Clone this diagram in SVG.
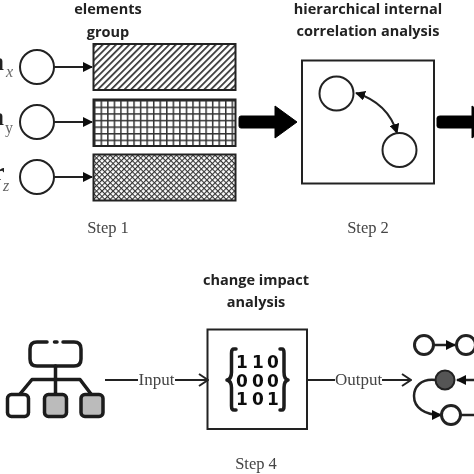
<svg xmlns="http://www.w3.org/2000/svg" width="474" height="474" viewBox="0 0 474 474">
<style>
.t{font-family:"Open Sans","Liberation Sans",sans-serif;font-weight:700;font-size:14.5px;fill:#222;text-anchor:middle}
.s{font-family:"Liberation Serif",serif;font-size:16.5px;fill:#444;text-anchor:middle}
.l{font-family:"Liberation Serif",serif;font-size:17px;fill:#444;text-anchor:middle}
.v{font-family:"Liberation Serif",serif;font-size:26px;font-weight:700;fill:#222}
.sub{font-family:"Liberation Serif",serif;font-size:16px;font-style:italic;fill:#666}
.n{fill:#fff;stroke:#222;stroke-width:2}
.c{fill:none;stroke:#222;stroke-width:2}
.i{fill:none;stroke:#1a1a1a;stroke-width:3.500;stroke-linecap:round;stroke-linejoin:round}
.m{font-family:"DejaVu Sans",sans-serif;font-weight:700;font-size:17px;fill:#111;text-anchor:middle}
</style>
<defs>
<filter id="soft" x="0" y="0" width="100%" height="100%"><feGaussianBlur stdDeviation="0.4"/></filter>
<pattern id="hatch" width="4.700" height="4.700" patternUnits="userSpaceOnUse" patternTransform="rotate(-45)">
<rect width="4.700" height="4.700" fill="#fff"/><rect width="4.700" height="1.700" fill="#333"/>
</pattern>
<pattern id="grid" width="6.550" height="6.600" patternUnits="userSpaceOnUse" x="94" y="100">
<rect width="6.550" height="6.600" fill="#fff"/><rect width="1.500" height="6.600" fill="#333"/><rect width="6.550" height="1.500" fill="#333"/>
</pattern>
<pattern id="cross" width="3.900" height="3.900" patternUnits="userSpaceOnUse" patternTransform="rotate(45)">
<rect width="3.900" height="3.900" fill="#fff"/><rect width="3.900" height="1.100" fill="#333"/><rect width="1.100" height="3.900" fill="#333"/>
</pattern>
<marker id="ah" viewBox="0 0 10 10" refX="9" refY="5" markerWidth="10" markerHeight="10" markerUnits="userSpaceOnUse" orient="auto-start-reverse"><path d="M0 0L10 5L0 10z" fill="#111"/></marker>
<marker id="open" viewBox="0 0 12 14" refX="11" refY="7" markerWidth="12" markerHeight="14" markerUnits="userSpaceOnUse" orient="auto"><path d="M2 1L11 7L2 13" fill="none" stroke="#222" stroke-width="2"/></marker>
</defs>
<g filter="url(#soft)">
<g id="titles">
<text class="t" x="108" y="14">elements</text>
<text class="t" x="108" y="36.500">group</text>
<text class="t" x="368" y="14">hierarchical internal</text>
<text class="t" x="368" y="35.500">correlation analysis</text>
<text class="t" x="256" y="285">change impact</text>
<text class="t" x="256" y="306.500">analysis</text>
<text class="s" x="108" y="233">Step 1</text>
<text class="s" x="368" y="233">Step 2</text>
<text class="s" x="256" y="469">Step 4</text>
</g>
<g id="labels">
<text class="v" x="-9" y="70">a</text><text class="sub" x="6" y="77">x</text>
<text class="v" x="-9" y="125">a</text><text class="sub" x="5" y="133" style="font-style:normal">y</text>
<text class="v" x="-7" y="180">r</text><text class="sub" x="3" y="191">z</text>
</g>
<g id="connectors">
<path class="c" d="M54 67H92" marker-end="url(#ah)"/>
<path class="c" d="M54 122H92" marker-end="url(#ah)"/>
<path class="c" d="M54 177H92" marker-end="url(#ah)"/>
<path d="M241 116H275V106L297 122L275 138V128H241Q239 128 239 126V118Q239 116 241 116Z" fill="#000" stroke="#000" stroke-width="1" stroke-linejoin="round"/>
<path d="M440 116H472V106L494 122L472 138V128H440Q437 128 437 126V118Q437 116 440 116Z" fill="#000" stroke="#000" stroke-width="1" stroke-linejoin="round"/>
<path class="c" d="M356 93Q388 103 397 133" marker-start="url(#ah)" marker-end="url(#ah)"/>
<path class="c" d="M105 380H138"/>
<path class="c" d="M175 380H208" marker-end="url(#open)"/>
<path class="c" d="M307 380H335"/>
<path class="c" d="M382 380H411" marker-end="url(#open)"/>
<path class="c" d="M434 345H455" marker-end="url(#ah)" style="stroke-width:2.500"/>
<path class="c" d="M474 380H457" marker-end="url(#ah)" style="stroke-width:2.500"/>
<path class="c" d="M436 380C420 378 414 388 414 396C414 408 425 415 441 415" marker-end="url(#ah)" style="stroke-width:2.500"/>
<path class="c" d="M461 415H474" style="stroke-width:2.500"/>
</g>
<g id="source-x"><circle class="n" cx="37" cy="67" r="17"/></g>
<g id="source-y"><circle class="n" cx="37" cy="122" r="17"/></g>
<g id="source-z"><circle class="n" cx="37" cy="177" r="17"/></g>
<g id="group-x"><rect x="93.500" y="44" width="142" height="46" fill="url(#hatch)" stroke="#222" stroke-width="2"/></g>
<g id="group-y"><rect x="93.500" y="99.500" width="142" height="46.500" fill="url(#grid)" stroke="#222" stroke-width="2"/></g>
<g id="group-z"><rect x="93.500" y="154.500" width="142" height="46" fill="url(#cross)" stroke="#222" stroke-width="2"/></g>
<g id="correlation"><rect x="302" y="60.500" width="132" height="123" fill="none" stroke="#222" stroke-width="2"/><circle class="n" cx="336.500" cy="93.500" r="17"/><circle class="n" cx="399.500" cy="150" r="17"/></g>
<g id="tree">
<path class="i" d="M47 342H37Q30 342 30 349V359Q30 366 37 366H74Q81 366 81 359V349Q81 342 74 342H63M54.500 342H57"/>
<path class="i" d="M55.500 366V394M20 394L32 379.500H80L91 394"/>
<rect class="i" x="7.500" y="394.500" width="21" height="22" rx="4" style="fill:#fff"/>
<rect class="i" x="44.500" y="394.500" width="22" height="22" rx="4" style="fill:#bbb"/>
<rect class="i" x="81" y="394.500" width="22" height="22" rx="4" style="fill:#bbb"/>
</g>
<text class="l" x="156.500" y="385">Input</text>
<g id="matrix-box">
<rect x="207.500" y="329.500" width="99.500" height="99.500" fill="none" stroke="#222" stroke-width="2"/>
<path class="i" d="M236 349H234Q231.500 349 231.500 353V372Q231.500 379 227 380Q231.500 381 231.500 388V406Q231.500 410 234 410H236"/>
<path class="i" d="M280 349H282Q284 349 284 353V372Q284 379 288 380Q284 381 284 388V406Q284 410 282 410H280"/>
<text class="m" x="242 258 273" y="368">110</text>
<text class="m" x="242 258 273" y="386.500">000</text>
<text class="m" x="242 258 273" y="404.500">101</text>
</g>
<text class="l" x="358.500" y="385">Output</text>
<g id="out-a"><circle class="n" cx="424" cy="345" r="9.500" style="stroke-width:3"/></g>
<g id="out-b"><circle class="n" cx="466" cy="345" r="9.500" style="stroke-width:3"/></g>
<g id="out-c"><circle class="n" cx="445" cy="380" r="9.500" style="fill:#555;stroke-width:2"/></g>
<g id="out-d"><circle class="n" cx="451" cy="415" r="9.500" style="stroke-width:3"/></g>
</g>
</svg>
